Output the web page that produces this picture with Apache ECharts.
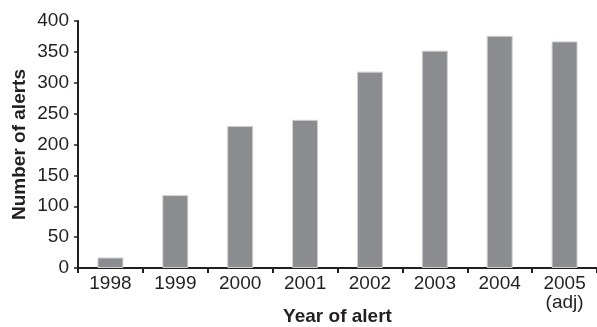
<!DOCTYPE html>
<html>
<head>
<meta charset="utf-8">
<script src="https://cdn.jsdelivr.net/npm/echarts@6/dist/echarts.min.js"></script>
<style>
html,body{margin:0;padding:0;background:#fff;}
#chart{width:597px;height:327px;}
</style>
</head>
<body>
<div id="chart"></div>
<script>
const categories = ['1998','1999','2000','2001','2002','2003','2004','2005\n(adj)'];
const alerts = [17, 118, 230, 240, 318, 352, 376, 367];
const yTicks = {min: 0, max: 400, interval: 50};

const chart = echarts.init(document.getElementById('chart'), null, {renderer: 'canvas'});
const txt = '#231f20';
const font = '"Liberation Sans", Arial, Helvetica, sans-serif';
chart.setOption({
  animation: false,
  grid: {left: 78, right: 0, top: 21, bottom: 59, containLabel: false, outerBoundsMode: 'none'},
  xAxis: {
    type: 'category',
    data: categories,
    name: 'Year of alert',
    nameLocation: 'middle',
    nameGap: 39,
    nameMoveOverlap: false,
    nameTextStyle: {color: txt, fontSize: 19, fontWeight: 'bold', fontFamily: font},
    axisLine: {lineStyle: {color: txt, width: 2}},
    axisTick: {show: true, length: 5, lineStyle: {color: txt, width: 2}},
    axisLabel: {color: txt, fontSize: 19, fontFamily: font, margin: 6, lineHeight: 19, interval: 0}
  },
  yAxis: {
    type: 'value',
    min: yTicks.min, max: yTicks.max, interval: yTicks.interval,
    name: 'Number of alerts',
    nameLocation: 'middle',
    nameGap: 49,
    nameMoveOverlap: false,
    nameTextStyle: {color: txt, fontSize: 19, fontWeight: 'bold', fontFamily: font},
    axisLine: {show: true, lineStyle: {color: txt, width: 2}},
    axisTick: {show: true, length: 4, lineStyle: {color: txt, width: 1.5}},
    axisLabel: {color: txt, fontSize: 19, fontFamily: font, margin: 9},
    splitLine: {show: false}
  },
  series: [{
    type: 'bar',
    data: alerts,
    barWidth: '40%',
    itemStyle: {color: '#8b8c90', borderColor: '#cfcfd1', borderWidth: 1}
  }]
});
</script>
</body>
</html>
